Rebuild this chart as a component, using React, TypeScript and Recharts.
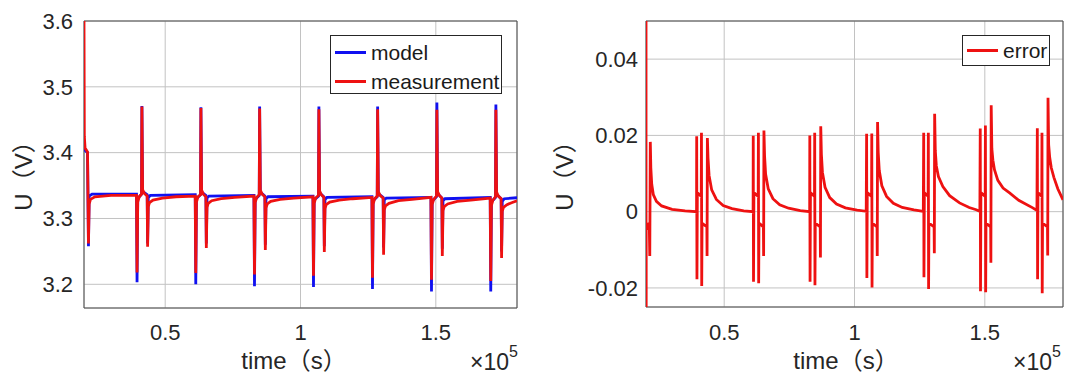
import React from "react";
import {
  LineChart,
  Line,
  XAxis,
  YAxis,
  CartesianGrid,
  ReferenceArea,
  Legend,
} from "recharts";

// time in units of 1e5 s, voltage in V
const timeTicks = [0.5, 1, 1.5];
const voltTicks = [3.2, 3.3, 3.4, 3.5, 3.6];
const errorTicks = [-0.02, 0, 0.02, 0.04];
const voltSeries = ["model", "measurement"];

const model: [number, number][] = [
  [0.2, 3.405], [0.213, 3.4], [0.2165, 3.258], [0.219, 3.334], [0.23, 3.337], [0.394, 3.337],
  [0.396, 3.203], [0.3985, 3.33], [0.4125, 3.337], [0.414, 3.471], [0.4165, 3.341], [0.4335, 3.336], [0.435, 3.262], [0.4375, 3.332], [0.445, 3.335], [0.611, 3.336],
  [0.613, 3.2], [0.6155, 3.33], [0.6305, 3.336], [0.632, 3.469], [0.6345, 3.34], [0.6505, 3.335], [0.652, 3.262], [0.6545, 3.331], [0.662, 3.334], [0.828, 3.335],
  [0.83, 3.197], [0.8325, 3.329], [0.8475, 3.335], [0.849, 3.47], [0.8515, 3.34], [0.8685, 3.334], [0.87, 3.26], [0.8725, 3.33], [0.88, 3.333], [1.046, 3.334],
  [1.048, 3.196], [1.0505, 3.328], [1.0665, 3.334], [1.068, 3.47], [1.0705, 3.339], [1.0865, 3.333], [1.088, 3.258], [1.0905, 3.329], [1.098, 3.332], [1.264, 3.333],
  [1.266, 3.193], [1.2685, 3.327], [1.2835, 3.333], [1.285, 3.47], [1.2875, 3.338], [1.3055, 3.332], [1.307, 3.256], [1.3095, 3.328], [1.317, 3.331], [1.482, 3.332],
  [1.484, 3.189], [1.4865, 3.326], [1.5025, 3.333], [1.504, 3.476], [1.5065, 3.338], [1.5225, 3.331], [1.524, 3.254], [1.5265, 3.327], [1.534, 3.33], [1.701, 3.332],
  [1.703, 3.189], [1.7055, 3.325], [1.7205, 3.332], [1.722, 3.473], [1.7245, 3.337], [1.7415, 3.33], [1.743, 3.25], [1.7455, 3.326], [1.753, 3.33], [1.8, 3.3315],
];

const measurement: [number, number][] = [
  [0.2, 3.6], [0.2012, 3.425], [0.204, 3.407], [0.213, 3.401], [0.2165, 3.262], [0.219, 3.322], [0.224, 3.329], [0.24, 3.333], [0.3, 3.335], [0.394, 3.335],
  [0.396, 3.218], [0.3985, 3.325], [0.404, 3.333], [0.4125, 3.337], [0.414, 3.47], [0.4165, 3.344], [0.423, 3.338], [0.4335, 3.334], [0.435, 3.257], [0.4375, 3.318], [0.442, 3.324], [0.455, 3.328], [0.49, 3.331], [0.54, 3.333], [0.611, 3.334],
  [0.613, 3.217], [0.6155, 3.325], [0.621, 3.333], [0.6305, 3.336], [0.632, 3.468], [0.6345, 3.343], [0.641, 3.337], [0.6505, 3.333], [0.652, 3.255], [0.6545, 3.317], [0.659, 3.323], [0.672, 3.327], [0.707, 3.33], [0.757, 3.332], [0.828, 3.334],
  [0.83, 3.215], [0.8325, 3.324], [0.838, 3.332], [0.8475, 3.336], [0.849, 3.467], [0.8515, 3.343], [0.858, 3.337], [0.8685, 3.333], [0.87, 3.252], [0.8725, 3.316], [0.877, 3.322], [0.89, 3.326], [0.925, 3.329], [0.975, 3.331], [1.046, 3.333],
  [1.048, 3.213], [1.0505, 3.323], [1.056, 3.331], [1.0665, 3.335], [1.068, 3.466], [1.0705, 3.342], [1.077, 3.336], [1.0865, 3.332], [1.088, 3.249], [1.0905, 3.315], [1.095, 3.321], [1.108, 3.325], [1.143, 3.328], [1.193, 3.33], [1.264, 3.332],
  [1.266, 3.21], [1.2685, 3.322], [1.274, 3.33], [1.2835, 3.334], [1.285, 3.466], [1.2875, 3.341], [1.294, 3.335], [1.3055, 3.331], [1.307, 3.245], [1.3095, 3.313], [1.314, 3.319], [1.327, 3.323], [1.362, 3.327], [1.412, 3.329], [1.482, 3.332],
  [1.484, 3.207], [1.4865, 3.321], [1.492, 3.329], [1.5025, 3.334], [1.504, 3.465], [1.5065, 3.341], [1.513, 3.335], [1.5225, 3.331], [1.524, 3.243], [1.5265, 3.312], [1.531, 3.318], [1.544, 3.322], [1.579, 3.326], [1.629, 3.328], [1.701, 3.331],
  [1.703, 3.205], [1.7055, 3.32], [1.711, 3.328], [1.7205, 3.333], [1.722, 3.465], [1.7245, 3.34], [1.731, 3.334], [1.7415, 3.33], [1.743, 3.24], [1.7455, 3.311], [1.75, 3.317], [1.763, 3.321], [1.78, 3.324], [1.8, 3.327],
];

const error: [number, number][] = [
  [0.2, 0.2], [0.2004, -0.2], [0.2008, -0.003], [0.206, -0.004], [0.2125, -0.003], [0.2145, -0.0116], [0.2165, 0.0183], [0.2185, 0.0115], [0.222, 0.0072], [0.228, 0.0045], [0.24, 0.0027], [0.26, 0.0015], [0.3, 0.0006], [0.35, 0.0002], [0.394, 0],
  [0.3945, 0.0198], [0.3955, -0.0177], [0.397, 0.005], [0.412, 0.004], [0.4128, 0.0207], [0.4138, -0.0195], [0.415, -0.003], [0.4335, -0.004], [0.4343, -0.0116], [0.4355, 0.0193], [0.438, 0.014], [0.442, 0.0095], [0.452, 0.0057], [0.47, 0.0032], [0.496, 0.0016], [0.53, 0.0008], [0.575, 0.0002], [0.611, 0],
  [0.6115, 0.0199], [0.6125, -0.0184], [0.614, 0.005], [0.6305, 0.004], [0.6313, 0.0207], [0.6323, -0.0188], [0.6335, -0.003], [0.6505, -0.004], [0.6513, -0.0116], [0.6525, 0.0213], [0.655, 0.0145], [0.659, 0.0098], [0.669, 0.006], [0.687, 0.0034], [0.713, 0.0018], [0.747, 0.0009], [0.792, 0.0003], [0.828, 0],
  [0.8285, 0.02], [0.8295, -0.0184], [0.831, 0.005], [0.8465, 0.004], [0.8473, 0.0207], [0.8483, -0.0193], [0.8495, -0.003], [0.8685, -0.004], [0.8693, -0.012], [0.8705, 0.0224], [0.873, 0.015], [0.877, 0.0103], [0.887, 0.0064], [0.905, 0.0037], [0.931, 0.002], [0.965, 0.001], [1.01, 0.0004], [1.045, 0.0001],
  [1.0465, 0.0204], [1.0475, -0.0174], [1.049, 0.005], [1.0655, 0.004], [1.0663, 0.0205], [1.0673, -0.0199], [1.0685, -0.003], [1.0865, -0.004], [1.0873, -0.0116], [1.0885, 0.0235], [1.091, 0.0155], [1.095, 0.0108], [1.105, 0.0068], [1.123, 0.004], [1.149, 0.0022], [1.183, 0.0011], [1.228, 0.0005], [1.264, 0.0001],
  [1.2655, 0.0207], [1.2665, -0.0172], [1.268, 0.005], [1.2825, 0.004], [1.2833, 0.0207], [1.2843, -0.0203], [1.2855, -0.003], [1.3055, -0.004], [1.3063, -0.0109], [1.3075, 0.0257], [1.31, 0.016], [1.314, 0.012], [1.322, 0.0092], [1.339, 0.0066], [1.365, 0.0042], [1.403, 0.0023], [1.44, 0.0011], [1.467, 0.0005], [1.481, 0.0001],
  [1.4825, 0.0218], [1.4835, -0.0209], [1.485, 0.005], [1.5015, 0.004], [1.5023, 0.0226], [1.5033, -0.0211], [1.5045, -0.003], [1.5225, -0.004], [1.5233, -0.0134], [1.5245, 0.0279], [1.527, 0.0165], [1.531, 0.0135], [1.537, 0.011], [1.55, 0.0082], [1.57, 0.0062], [1.595, 0.0049], [1.63, 0.003], [1.684, 0.001], [1.7, 0.0003],
  [1.7015, 0.0219], [1.7025, -0.0177], [1.704, 0.005], [1.7185, 0.004], [1.7193, 0.0207], [1.7203, -0.0214], [1.7215, -0.003], [1.7405, -0.004], [1.7413, -0.0115], [1.7425, 0.0299], [1.745, 0.0175], [1.749, 0.0142], [1.755, 0.0115], [1.765, 0.009], [1.78, 0.006], [1.8, 0.0031],
];

const toRows = (pts: [number, number][]) => pts.map(([t, u]) => ({ t, u }));

const FONT = "'Liberation Sans', Arial, 'Noto Sans CJK SC', sans-serif";
const INK = "#262626";
const BLUE = "#1010f0";
const RED = "#ee1111";
const LW = 2.8;
const tickStyle = { fontFamily: FONT, fontSize: 22, fill: INK };

const LegendBox = ({ payload, order, width, height, rowTop }: any) => {
  const items = [...(payload || [])].sort(
    (a: any, b: any) => order.indexOf(a.value) - order.indexOf(b.value)
  );
  return (
    <div
      style={{
        width,
        height,
        boxSizing: "border-box",
        border: "1px solid #262626",
        background: "#fff",
        fontFamily: FONT,
        fontSize: 21,
        color: "#1a1a1a",
        paddingTop: rowTop,
      }}
    >
      {items.map((p: any) => (
        <div key={p.value} style={{ display: "flex", alignItems: "center", height: 29 }}>
          <span
            style={{ display: "inline-block", width: 31, height: 3, background: p.color, marginLeft: 4, marginRight: 5 }}
          />
          <span>{p.value}</span>
        </div>
      ))}
    </div>
  );
};

const yLabel = (cx: number) => () =>
  (
    <text
      x={cx}
      y={170}
      transform={`rotate(-90 ${cx} 170)`}
      textAnchor="middle"
      dominantBaseline="central"
      fontFamily={FONT}
      fontSize={24}
      fill={INK}
    >
      U（V）
    </text>
  );

const xLabel = (cx: number, right: number) => () =>
  (
    <g fontFamily={FONT} fill={INK}>
      <text x={cx} y={369} textAnchor="middle" fontSize={24}>
        time（s）
      </text>
      <text x={right} y={370} textAnchor="end" fontSize={23}>
        ×10<tspan dy={-13} fontSize={16}>5</tspan>
      </text>
    </g>
  );

function VoltageChart() {
  return (
    <LineChart width={540} height={376} margin={{ top: 21, right: 23, bottom: 28, left: 0 }}>
      <CartesianGrid stroke="#c2c2c2" />
      <XAxis
        dataKey="t"
        type="number"
        domain={[0.2, 1.8]}
        ticks={timeTicks}
        allowDataOverflow
        height={40}
        axisLine={false}
        tickLine={false}
        tickSize={0}
        tickMargin={16}
        tick={tickStyle}
        label={xLabel(294, 518)}
      />
      <YAxis
        type="number"
        domain={[3.164, 3.6]}
        ticks={voltTicks}
        allowDataOverflow
        width={84}
        axisLine={false}
        tickLine={false}
        tickSize={0}
        tickMargin={11}
        tick={tickStyle}
        label={yLabel(23)}
      />
      <ReferenceArea x1={0.2} x2={1.8} y1={3.164} y2={3.6} fill="none" stroke="#4a4a4a" strokeWidth={1} />
      <Legend
        verticalAlign="middle"
        align="center"
        layout="horizontal"
        wrapperStyle={{ left: 330, top: 35, right: "auto", bottom: "auto", width: 172, height: 59 }}
        content={(props: any) => (
          <LegendBox payload={props.payload} order={voltSeries} width={172} height={59} rowTop={2} />
        )}
      />
      <Line
        name="model"
        data={toRows(model)}
        dataKey="u"
        stroke={BLUE}
        strokeWidth={LW}
        dot={false}
        activeDot={false}
        isAnimationActive={false}
      />
      <Line
        name="measurement"
        data={toRows(measurement)}
        dataKey="u"
        stroke={RED}
        strokeWidth={LW}
        dot={false}
        activeDot={false}
        isAnimationActive={false}
      />
    </LineChart>
  );
}

function ErrorChart() {
  return (
    <LineChart width={526} height={376} margin={{ top: 21, right: 3, bottom: 29, left: 0 }}>
      <CartesianGrid stroke="#c2c2c2" />
      <XAxis
        dataKey="t"
        type="number"
        domain={[0.2, 1.8]}
        ticks={timeTicks}
        allowDataOverflow
        height={40}
        axisLine={false}
        tickLine={false}
        tickSize={0}
        tickMargin={17}
        tick={tickStyle}
        label={xLabel(306, 521)}
      />
      <YAxis
        type="number"
        domain={[-0.025, 0.05]}
        ticks={errorTicks}
        allowDataOverflow
        width={106}
        axisLine={false}
        tickLine={false}
        tickSize={0}
        tickMargin={8}
        tick={tickStyle}
        label={yLabel(24)}
      />
      <ReferenceArea x1={0.2} x2={1.8} y1={-0.025} y2={0.05} fill="none" stroke="#4a4a4a" strokeWidth={1} />
      <Legend
        verticalAlign="middle"
        align="center"
        layout="horizontal"
        wrapperStyle={{ left: 422, top: 35, right: "auto", bottom: "auto", width: 88, height: 31 }}
        content={(props: any) => (
          <LegendBox payload={props.payload} order={["error"]} width={88} height={31} rowTop={0} />
        )}
      />
      <Line
        name="error"
        data={toRows(error)}
        dataKey="u"
        stroke={RED}
        strokeWidth={LW}
        dot={false}
        activeDot={false}
        isAnimationActive={false}
      />
    </LineChart>
  );
}

export default function App() {
  return (
    <div style={{ position: "absolute", left: 0, top: 0, width: 1066, height: 376, background: "#fff", overflow: "hidden" }}>
      <div style={{ position: "absolute", left: 0, top: 0 }}>
        <VoltageChart />
      </div>
      <div style={{ position: "absolute", left: 540, top: 0 }}>
        <ErrorChart />
      </div>
    </div>
  );
}
